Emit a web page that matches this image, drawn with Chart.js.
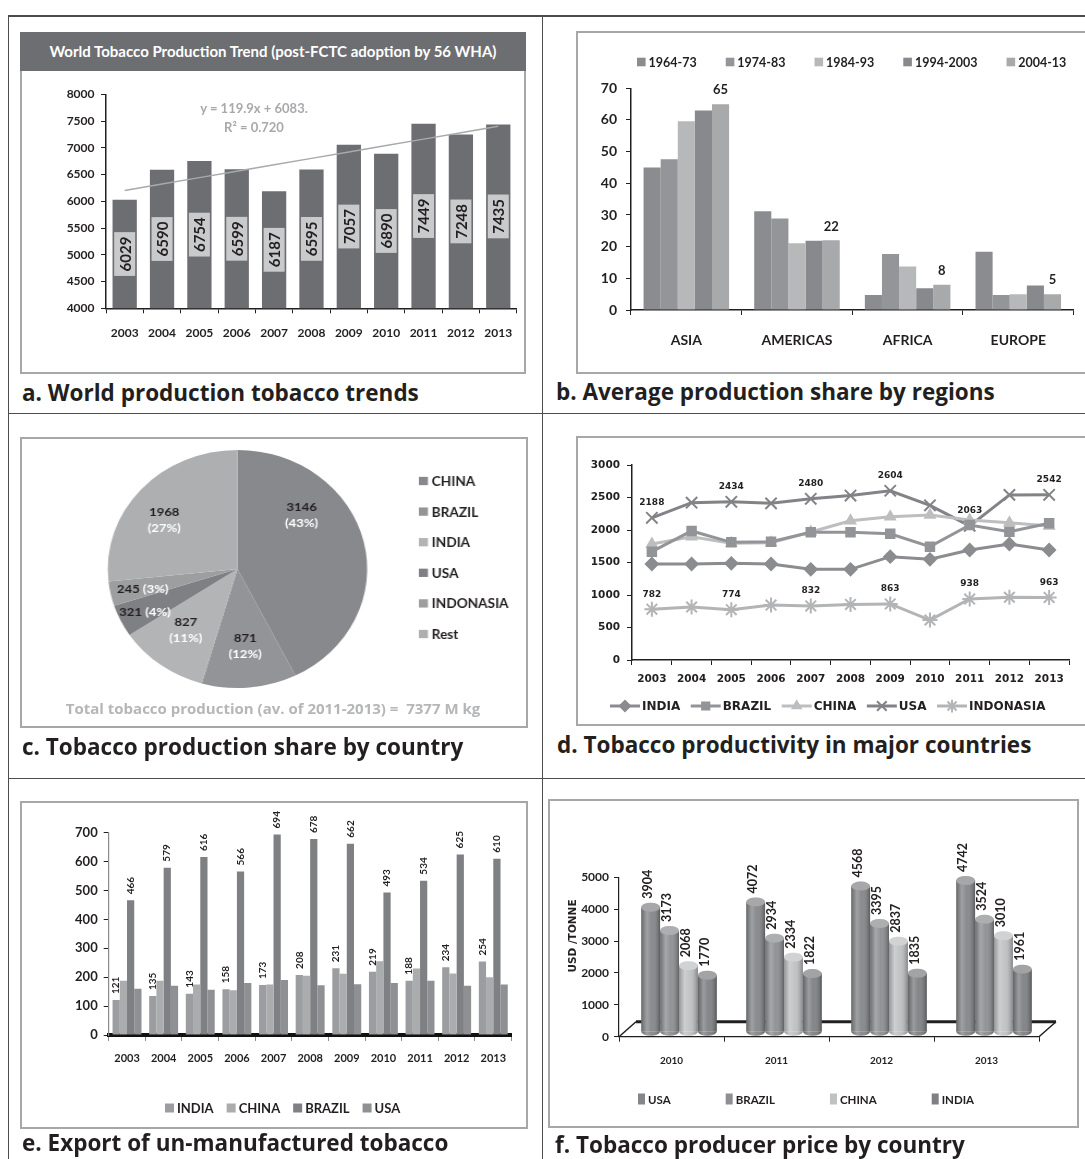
<!DOCTYPE html>
<html>
<head>
<meta charset="utf-8">
<title>Tobacco production, productivity, exports and prices</title>
<script src="https://cdn.jsdelivr.net/npm/chart.js@4.4.1/dist/chart.umd.min.js"></script>
<style>
  html, body { margin: 0; padding: 0; background: #fff; }
  #page { position: relative; width: 1085px; height: 1159px; overflow: hidden;
          font-family: Lato, 'Open Sans', sans-serif; color: #231f20; }
  .rule { position: absolute; background: #4d4d4f; }
  .box { position: absolute; border: 2px solid #a6a7a9; box-sizing: border-box; }
  .cap { position: absolute; font-family: 'Open Sans', Lato, sans-serif; font-weight: 700;
         font-size: 22.5px; line-height: 24px; white-space: nowrap; }
  .cv { position: absolute; }
  .note { position: absolute; font-weight: 700; white-space: nowrap; text-align: center; }
  .titlebar { position: absolute; background: #6d6e71; color: #fff; font-weight: 700;
              text-align: center; white-space: nowrap; }
</style>
</head>
<body>
<div id="page">
  <!-- frame rules -->
  <div class="rule" style="left:8px;top:15px;width:1077px;height:1.5px"></div>
  <div class="rule" style="left:7.5px;top:15px;width:1.5px;height:1144px"></div>
  <div class="rule" style="left:541.5px;top:15px;width:1.5px;height:1144px"></div>
  <div class="rule" style="left:8px;top:412.5px;width:1077px;height:1.5px"></div>
  <div class="rule" style="left:8px;top:777.5px;width:1077px;height:1.5px"></div>

  <!-- panel boxes -->
  <div class="box" style="left:20px;top:32px;width:506px;height:342px"></div>
  <div class="box" style="left:576px;top:31px;width:520px;height:343px"></div>
  <div class="box" style="left:20px;top:437px;width:508px;height:291px"></div>
  <div class="box" style="left:576px;top:436px;width:520px;height:290px"></div>
  <div class="box" style="left:20px;top:801px;width:508px;height:328px"></div>
  <div class="box" style="left:548px;top:799px;width:531px;height:329px"></div>

  <div class="titlebar" style="left:20px;top:32px;width:506px;height:39px;line-height:39px;font-size:15px">World Tobacco Production Trend (post-FCTC adoption by 56 WHA)</div>

  <div class="cv" style="left:21px;top:71px;width:504px;height:302px"><canvas id="chartA"></canvas></div>
  <div class="cv" style="left:577px;top:32px;width:508px;height:341px"><canvas id="chartB"></canvas></div>
  <div class="cv" style="left:21px;top:438px;width:464px;height:289px;transform:scaleX(1.09);transform-origin:0 0"><canvas id="chartC"></canvas></div>
  <div class="cv" style="left:577px;top:438px;width:508px;height:287px"><canvas id="chartD"></canvas></div>
  <div class="cv" style="left:22px;top:803px;width:505px;height:325px"><canvas id="chartE"></canvas></div>
  <div class="cv" style="left:550px;top:801px;width:527px;height:325px"><canvas id="chartF"></canvas></div>

  <div class="note" style="left:104px;top:100px;width:300px;line-height:16px;font-size:13px;color:#a7a9ac">y = 119.9x + 6083.</div>
  <div class="note" style="left:104px;top:119px;width:300px;line-height:16px;font-size:13px;color:#a7a9ac">R² = 0.720</div>
  <div class="note" style="left:23px;top:699px;width:500px;line-height:18px;font-size:15px;color:#b5b6b8;font-family:'Open Sans',Lato,sans-serif">Total tobacco production (av. of 2011-2013) =&nbsp; 7377 M kg</div>

  <div class="cap" style="left:22px;top:381px">a. World production tobacco trends</div>
  <div class="cap" style="left:556px;top:380px">b. Average production share by regions</div>
  <div class="cap" style="left:22px;top:735px">c. Tobacco production share by country</div>
  <div class="cap" style="left:557px;top:733px">d. Tobacco productivity in major countries</div>
  <div class="cap" style="left:22px;top:1131px">e. Export of un-manufactured tobacco</div>
  <div class="cap" style="left:555px;top:1133px">f. Tobacco producer price by country</div>
</div>

<script>
// ---------- data ----------
// a. world production (M kg) and its fitted trend line
const yearsA = ['2003','2004','2005','2006','2007','2008','2009','2010','2011','2012','2013'];
const worldProduction = [6029, 6590, 6754, 6599, 6187, 6595, 7057, 6890, 7449, 7248, 7435];
const trendSlope = 119.9;
const trendIntercept = 6083;

// b. average production share (%) by region and decade
const regions = ['ASIA', 'AMERICAS', 'AFRICA', 'EUROPE'];
const decades = ['1964-73', '1974-83', '1984-93', '1994-2003', '2004-13'];
const share1964_73 = [45, 31.2, 4.7, 18.4];
const share1974_83 = [47.6, 28.9, 17.7, 4.7];
const share1984_93 = [59.6, 21.1, 13.7, 5.0];
const share1994_03 = [63, 21.9, 6.9, 7.7];
const share2004_13 = [65, 22, 8, 5];

// c. production share by country (average 2011-2013, M kg)
const countriesC = ['CHINA', 'BRAZIL', 'INDIA', 'USA', 'INDONASIA', 'Rest'];
const productionC = [3146, 871, 827, 321, 245, 1968];

// d. productivity (kg/ha)
const yearsD = ['2003','2004','2005','2006','2007','2008','2009','2010','2011','2012','2013'];
const yieldIndia = [1477, 1477, 1487, 1477, 1395, 1395, 1590, 1549, 1692, 1785, 1692];
const yieldBrazil = [1667, 1985, 1810, 1821, 1964, 1964, 1943, 1744, 2077, 1974, 2103];
const yieldChina = [1785, 1897, 1795, 1805, 1969, 2143, 2205, 2231, 2154, 2113, 2062];
const yieldUSA = [2188, 2420, 2434, 2410, 2480, 2530, 2604, 2380, 2063, 2540, 2542];
const yieldIndonesia = [782, 815, 774, 845, 832, 855, 863, 615, 938, 965, 963];
const labelledYearsD = ['2003', '2005', '2007', '2009', '2011', '2013'];

// e. export of un-manufactured tobacco (M kg)
const yearsE = ['2003','2004','2005','2006','2007','2008','2009','2010','2011','2012','2013'];
const exportIndia = [121, 135, 143, 158, 173, 208, 231, 219, 188, 234, 254];
const exportChina = [188, 188, 175, 155, 175, 205, 212, 255, 230, 213, 200];
const exportBrazil = [466, 579, 616, 566, 694, 678, 662, 493, 534, 625, 610];
const exportUSA = [160, 170, 157, 180, 190, 172, 176, 180, 188, 170, 175];

// f. producer price (USD / tonne)
const yearsF = ['2010', '2011', '2012', '2013'];
const priceUSA = [3904, 4072, 4568, 4742];
const priceBrazil = [3173, 2934, 3395, 3524];
const priceChina = [2068, 2334, 2837, 3010];
const priceIndia = [1770, 1822, 1835, 1961];

// ---------- shared look ----------
const INK = '#231f20';
const LATO = "Lato, 'Open Sans', sans-serif";
const DEJAVU = "'DejaVu Sans', Verdana, sans-serif";
Chart.defaults.font.family = LATO;
Chart.defaults.font.weight = 'bold';
Chart.defaults.color = INK;
Chart.defaults.animation = false;
Chart.defaults.responsive = true;
Chart.defaults.maintainAspectRatio = false;
Chart.defaults.plugins.legend.display = false;
Chart.defaults.plugins.tooltip.enabled = false;

const fixWidth = w => scale => { scale.width = w; };
const fixHeight = h => scale => { scale.height = h; };
const plainNumber = v => String(v);

function categoryAxis(height, fontSize, pad, extra) {
  return Object.assign({
    offset: true,
    grid: { offset: true, drawOnChartArea: false, drawTicks: true, tickLength: 5, color: INK, lineWidth: 1 },
    border: { display: true, color: INK, width: 1.5 },
    ticks: { font: { size: fontSize, weight: 'bold' }, padding: pad, maxRotation: 0, autoSkip: false },
    afterFit: fixHeight(height)
  }, extra || {});
}
function valueAxis(width, min, max, step, font, pad, extra) {
  return Object.assign({
    min, max,
    grid: { drawOnChartArea: false, drawTicks: true, tickLength: 5, color: INK, lineWidth: 1 },
    border: { display: true, color: INK, width: 1.5 },
    ticks: { stepSize: step, font, padding: pad, callback: plainNumber },
    afterFit: fixWidth(width)
  }, extra || {});
}

// legend row of filled boxes, built from the datasets
const boxLegend = {
  id: 'boxLegend',
  afterDraw(chart, args, o) {
    if (!o || o.x === undefined) return;
    const ctx = chart.ctx;
    ctx.save();
    ctx.font = o.font;
    ctx.textBaseline = 'middle';
    ctx.textAlign = 'left';
    let x = o.x;
    chart.data.datasets.forEach(ds => {
      if (ds.type === 'line') return;
      ctx.fillStyle = ds.backgroundColor;
      ctx.fillRect(x, o.y - o.boxH / 2, o.boxW, o.boxH);
      x += o.boxW + o.textGap;
      ctx.fillStyle = INK;
      ctx.fillText(ds.label, x, o.y + 1);
      x += ctx.measureText(ds.label).width + o.gap;
    });
    ctx.restore();
  }
};

// ---------- a. world production trend ----------
const trendLine = yearsA.map((_, i) => trendSlope * (i + 1) + trendIntercept);

const boxedBarLabels = {
  id: 'boxedBarLabels',
  afterDatasetsDraw(chart) {
    const ctx = chart.ctx;
    const floor = chart.chartArea.bottom;
    const idx = chart.data.datasets.findIndex(d => d.type === 'bar');
    const ds = chart.data.datasets[idx];
    chart.getDatasetMeta(idx).data.forEach((bar, i) => {
      const txt = String(ds.data[i]);
      ctx.save();
      ctx.font = 'bold 15px ' + LATO;
      const tw = ctx.measureText(txt).width;
      const len = tw + 9, thick = 21;
      ctx.translate(bar.x, (bar.y + Math.min(bar.base, floor)) / 2);
      ctx.rotate(-Math.PI / 2);
      ctx.fillStyle = '#c9cacc';
      ctx.fillRect(-len / 2, -thick / 2, len, thick);
      ctx.fillStyle = INK;
      ctx.textAlign = 'center';
      ctx.textBaseline = 'middle';
      ctx.fillText(txt, 0, 1);
      ctx.restore();
    });
  }
};

new Chart(document.getElementById('chartA'), {
  data: {
    labels: yearsA,
    datasets: [
      { type: 'line', label: 'Trend', data: trendLine, borderColor: '#a7a9ac', borderWidth: 1.5,
        pointRadius: 0, order: 0 },
      { type: 'bar', label: 'Production', data: worldProduction, backgroundColor: '#6d6e71',
        barPercentage: 0.65, categoryPercentage: 1, order: 1 }
    ]
  },
  options: {
    layout: { padding: { left: 0, right: 7, top: 23.3, bottom: 0 } },
    scales: {
      x: categoryAxis(64.7, 12, 12.5),
      y: valueAxis(85, 4000, 8000, 500, { size: 12, weight: 'bold' }, 6.5)
    }
  },
  plugins: [boxedBarLabels]
});

// ---------- b. regional shares ----------
const topValueLabel = {
  id: 'topValueLabel',
  afterDatasetsDraw(chart, args, o) {
    const ctx = chart.ctx;
    const last = chart.data.datasets.length - 1;
    const ds = chart.data.datasets[last];
    ctx.save();
    ctx.font = o.font;
    ctx.fillStyle = INK;
    ctx.textAlign = 'center';
    ctx.textBaseline = 'middle';
    chart.getDatasetMeta(last).data.forEach((bar, i) => {
      ctx.fillText(String(ds.data[i]), bar.x, bar.y - o.offset);
    });
    ctx.restore();
  }
};

const decadeColors = ['#8b8c8f', '#949598', '#b7b8ba', '#88898c', '#a8a9ab'];
const decadeSeries = [share1964_73, share1974_83, share1984_93, share1994_03, share2004_13];

new Chart(document.getElementById('chartB'), {
  type: 'bar',
  data: {
    labels: regions,
    datasets: decades.map((d, i) => ({
      label: d, data: decadeSeries[i], backgroundColor: decadeColors[i],
      barPercentage: 1, categoryPercentage: 0.773
    }))
  },
  options: {
    layout: { padding: { left: 0, right: 11.4, top: 56.3, bottom: 0 } },
    scales: {
      x: categoryAxis(63, 14, 17),
      y: valueAxis(54, 0, 70, 10, { size: 14, weight: 'bold' }, 9)
    },
    plugins: {
      boxLegend: { x: 60, y: 30, boxW: 8.6, boxH: 8.6, textGap: 3, gap: 29, font: 'bold 12.5px ' + LATO },
      topValueLabel: { font: 'bold 13px ' + LATO, offset: 14 }
    }
  },
  plugins: [boxLegend, topValueLabel]
});

// ---------- c. country shares ----------
const pieColors = ['#88898c', '#939497', '#b3b4b6', '#7f8083', '#9d9ea0', '#aeafb1'];
// where each label sits inside its slice: fraction of the slice angle and of the radius
const pieLabelPlace = [
  { at: 0.31, r: 0.67 }, { at: 0.5, r: 0.65 }, { at: 0.54, r: 0.65 },
  { at: 0.43, r: 0.8, inline: true }, { at: 0.41, r: 0.75, inline: true }, { at: 0.44, r: 0.7 }
];

const pieLabels = {
  id: 'pieLabels',
  afterDatasetsDraw(chart, args, o) {
    const ctx = chart.ctx;
    const data = chart.data.datasets[0].data;
    const total = data.reduce((a, b) => a + b, 0);
    ctx.save();
    ctx.font = o.font;
    ctx.textBaseline = 'middle';
    chart.getDatasetMeta(0).data.forEach((arc, i) => {
      const p = pieLabelPlace[i];
      const ang = arc.startAngle + p.at * (arc.endAngle - arc.startAngle);
      const rr = arc.outerRadius * p.r;
      const cx = arc.x + Math.cos(ang) * rr;
      const cy = arc.y + Math.sin(ang) * rr;
      const val = String(data[i]);
      const pct = '(' + Math.round(data[i] / total * 100) + '%)';
      if (p.inline) {
        const w1 = ctx.measureText(val + ' ').width;
        const w2 = ctx.measureText(pct).width;
        const x0 = cx - (w1 + w2) / 2;
        ctx.textAlign = 'left';
        ctx.fillStyle = INK; ctx.fillText(val, x0, cy);
        ctx.fillStyle = '#ffffff'; ctx.fillText(pct, x0 + w1, cy);
      } else {
        ctx.textAlign = 'center';
        ctx.fillStyle = INK; ctx.fillText(val, cx, cy - 8);
        ctx.fillStyle = '#ffffff'; ctx.fillText(pct, cx, cy + 8);
      }
    });
    ctx.restore();
  }
};

const pieLegend = {
  id: 'pieLegend',
  afterDraw(chart, args, o) {
    const ctx = chart.ctx;
    const ds = chart.data.datasets[0];
    ctx.save();
    ctx.font = o.font;
    ctx.textBaseline = 'middle';
    chart.data.labels.forEach((lab, i) => {
      const y = o.y + i * o.step;
      ctx.fillStyle = ds.backgroundColor[i];
      ctx.fillRect(o.x, y - o.box / 2, o.box, o.box);
      ctx.fillStyle = INK;
      ctx.fillText(lab, o.x + o.box + o.textGap, y + 1);
    });
    ctx.restore();
  }
};

new Chart(document.getElementById('chartC'), {
  type: 'pie',
  data: {
    labels: countriesC,
    datasets: [{ data: productionC, backgroundColor: pieColors, borderWidth: 0 }]
  },
  options: {
    layout: { padding: { left: 79.6, right: 146.4, top: 12, bottom: 39 } },
    plugins: {
      pieLabels: { font: 'bold 12px ' + LATO },
      pieLegend: { x: 365, y: 43, step: 30.6, box: 8.3, textGap: 3.5, font: 'bold 12.5px ' + LATO }
    }
  },
  plugins: [pieLabels, pieLegend]
});

// ---------- d. productivity ----------
const lineLegend = {
  id: 'lineLegend',
  afterDraw(chart, args, o) {
    const ctx = chart.ctx;
    ctx.save();
    ctx.font = o.font;
    ctx.textBaseline = 'middle';
    ctx.textAlign = 'left';
    let x = o.x;
    chart.data.datasets.forEach(ds => {
      ctx.strokeStyle = ds.borderColor;
      ctx.lineWidth = ds.borderWidth;
      ctx.beginPath(); ctx.moveTo(x, o.y); ctx.lineTo(x + o.line, o.y); ctx.stroke();
      ctx.fillStyle = ds.pointBackgroundColor;
      ctx.strokeStyle = ds.pointBorderColor;
      ctx.lineWidth = ds.pointBorderWidth;
      Chart.helpers.drawPoint(ctx, { pointStyle: ds.pointStyle, radius: ds.pointRadius * 0.85,
        borderWidth: ds.pointBorderWidth, rotation: 0 }, x + o.line / 2, o.y);
      x += o.line + o.textGap;
      ctx.fillStyle = INK;
      ctx.fillText(ds.label, x, o.y + 1);
      x += ctx.measureText(ds.label).width + o.gap;
    });
    ctx.restore();
  }
};

const pointValueLabels = {
  id: 'pointValueLabels',
  afterDatasetsDraw(chart, args, o) {
    const ctx = chart.ctx;
    ctx.save();
    ctx.font = o.font;
    ctx.fillStyle = INK;
    ctx.textAlign = 'center';
    ctx.textBaseline = 'middle';
    chart.data.datasets.forEach((ds, di) => {
      if (!ds.showValues) return;
      chart.getDatasetMeta(di).data.forEach((pt, i) => {
        if (!labelledYearsD.includes(chart.data.labels[i])) return;
        ctx.fillText(String(ds.data[i]), pt.x, pt.y - o.offset);
      });
    });
    ctx.restore();
  }
};

function yieldSeries(label, data, color, style, radius, showValues) {
  return {
    label, data, borderColor: color, backgroundColor: color, borderWidth: 3,
    pointStyle: style, pointRadius: radius, pointBackgroundColor: color, pointBorderColor: color,
    pointBorderWidth: 2, showValues, tension: 0
  };
}

const dejavuTick = { family: DEJAVU, size: 10.5, weight: 'bold' };
new Chart(document.getElementById('chartD'), {
  type: 'line',
  data: {
    labels: yearsD,
    datasets: [
      yieldSeries('INDIA', yieldIndia, '#8b8c8f', 'rectRot', 6, false),
      yieldSeries('BRAZIL', yieldBrazil, '#939497', 'rect', 6, false),
      yieldSeries('CHINA', yieldChina, '#bdbec0', 'triangle', 5.5, false),
      yieldSeries('USA', yieldUSA, '#828386', 'crossRot', 8, true),
      yieldSeries('INDONASIA', yieldIndonesia, '#b3b4b6', 'star', 7.5, true)
    ]
  },
  options: {
    layout: { padding: { left: 0, right: 16, top: 27, bottom: 0 } },
    scales: {
      x: categoryAxis(65, 10.5, 7.7, { ticks: { font: dejavuTick, padding: 7.7, maxRotation: 0, autoSkip: false } }),
      y: valueAxis(55, 0, 3000, 500, dejavuTick, 7)
    },
    plugins: {
      lineLegend: { x: 33, y: 268, line: 30, textGap: 2, gap: 10.5, font: 'bold 12px ' + DEJAVU },
      pointValueLabels: { font: 'bold 9px ' + DEJAVU, offset: 15 }
    }
  },
  plugins: [lineLegend, pointValueLabels]
});

// ---------- e. exports ----------
const rotatedValueLabels = {
  id: 'rotatedValueLabels',
  afterDatasetsDraw(chart, args, o) {
    const ctx = chart.ctx;
    chart.data.datasets.forEach((ds, di) => {
      if (!ds.showValues) return;
      chart.getDatasetMeta(di).data.forEach((bar, i) => {
        ctx.save();
        ctx.font = o.font;
        ctx.fillStyle = INK;
        ctx.textAlign = 'left';
        ctx.textBaseline = 'middle';
        ctx.translate(bar.x + (o.dx || 0), bar.y - o.gap);
        ctx.rotate(-Math.PI / 2);
        ctx.fillText(String(ds.data[i]), 0, 0);
        ctx.restore();
      });
    });
  }
};

new Chart(document.getElementById('chartE'), {
  type: 'bar',
  data: {
    labels: yearsE,
    datasets: [
      { label: 'INDIA', data: exportIndia, backgroundColor: '#9c9da0', showValues: true },
      { label: 'CHINA', data: exportChina, backgroundColor: '#abacae' },
      { label: 'BRAZIL', data: exportBrazil, backgroundColor: '#7f8083', showValues: true },
      { label: 'USA', data: exportUSA, backgroundColor: '#8f9093' }
    ].map(d => Object.assign(d, { barPercentage: 1, categoryPercentage: 0.79 }))
  },
  options: {
    layout: { padding: { left: 0, right: 15.4, top: 29.7, bottom: 0 } },
    scales: {
      x: categoryAxis(93, 11, 10.4, { z: 1, border: { display: true, color: '#111', width: 4 },
        grid: { offset: true, drawOnChartArea: false, drawTicks: true, tickLength: 6, color: '#8a8b8d', lineWidth: 1 } }),
      y: valueAxis(86.7, 0, 700, 100, { size: 13, weight: 'bold' }, 6, { border: { display: true, color: '#8a8b8d', width: 1.2 } })
    },
    plugins: {
      boxLegend: { x: 143, y: 305, boxW: 9, boxH: 9, textGap: 3, gap: 13, font: 'bold 13px ' + LATO },
      rotatedValueLabels: { font: 'bold 10px ' + LATO, gap: 6 }
    }
  },
  plugins: [boxLegend, rotatedValueLabels]
});

// ---------- f. producer prices, drawn as cylinders on a floor ----------
const cylinderLook = {
  id: 'cylinderLook',
  beforeDatasetsDraw(chart, args, o) {
    const { ctx, chartArea: a } = chart;
    ctx.save();
    ctx.strokeStyle = INK;
    ctx.lineWidth = 1.5;
    ctx.beginPath();
    ctx.moveTo(a.left, a.bottom); ctx.lineTo(a.left + o.depthX, a.bottom - o.depthY);
    ctx.moveTo(a.right, a.bottom); ctx.lineTo(a.right + o.depthX, a.bottom - o.depthY);
    ctx.stroke();
    ctx.lineWidth = 3;
    ctx.beginPath();
    ctx.moveTo(a.left + o.depthX, a.bottom - o.depthY); ctx.lineTo(a.right + o.depthX, a.bottom - o.depthY);
    ctx.stroke();
    ctx.restore();
    ctx.save();
    ctx.translate(o.shiftX, o.shiftY);
  },
  afterDatasetsDraw(chart, args, o) {
    const ctx = chart.ctx;
    chart.data.datasets.forEach((ds, di) => {
      chart.getDatasetMeta(di).data.forEach((bar, i) => {
        const { x, y, base, width } = bar.getProps(['x', 'y', 'base', 'width'], true);
        const l = x - width / 2;
        const shade = ctx.createLinearGradient(l, 0, l + width, 0);
        shade.addColorStop(0, 'rgba(0,0,0,0.22)');
        shade.addColorStop(0.3, 'rgba(255,255,255,0.22)');
        shade.addColorStop(0.55, 'rgba(255,255,255,0.04)');
        shade.addColorStop(1, 'rgba(0,0,0,0.32)');
        ctx.fillStyle = ds.backgroundColor;
        ctx.beginPath(); ctx.ellipse(x, base, width / 2, o.ry, 0, 0, Math.PI); ctx.fill();
        ctx.fillStyle = shade;
        ctx.fillRect(l, y, width, base - y);
        ctx.beginPath(); ctx.ellipse(x, base, width / 2, o.ry, 0, 0, Math.PI); ctx.fill();
        ctx.fillStyle = ds.backgroundColor;
        ctx.beginPath(); ctx.ellipse(x, y, width / 2, o.ry, 0, 0, 2 * Math.PI); ctx.fill();
        ctx.fillStyle = 'rgba(255,255,255,0.28)';
        ctx.fill();
        // value above each cylinder
        ctx.save();
        ctx.font = o.font;
        ctx.fillStyle = INK;
        ctx.textAlign = 'left';
        ctx.textBaseline = 'middle';
        ctx.translate(x - 2.5, y - o.ry - 4);
        ctx.rotate(-Math.PI / 2);
        ctx.fillText(String(ds.data[i]), 0, 0);
        ctx.restore();
      });
    });
    ctx.restore();
  }
};

const axisTitleF = {
  id: 'axisTitleF',
  afterDraw(chart, args, o) {
    const ctx = chart.ctx;
    ctx.save();
    ctx.font = o.font;
    ctx.fillStyle = INK;
    ctx.textAlign = 'center';
    ctx.textBaseline = 'middle';
    ctx.translate(o.x, o.y);
    ctx.rotate(-Math.PI / 2);
    ctx.fillText(o.text, 0, 0);
    ctx.restore();
  }
};

new Chart(document.getElementById('chartF'), {
  type: 'bar',
  data: {
    labels: yearsF,
    datasets: [
      { label: 'USA', data: priceUSA, backgroundColor: '#858689' },
      { label: 'BRAZIL', data: priceBrazil, backgroundColor: '#8e8f92' },
      { label: 'CHINA', data: priceChina, backgroundColor: '#c0c1c3' },
      { label: 'INDIA', data: priceIndia, backgroundColor: '#7f8083' }
    ].map(d => Object.assign(d, { barPercentage: 1, categoryPercentage: 0.72 }))
  },
  options: {
    layout: { padding: { left: 0, right: 38, top: 76.3, bottom: 0 } },
    scales: {
      x: categoryAxis(89.3, 10, 13.3, { border: { display: true, color: INK, width: 1.2 } }),
      y: valueAxis(69, 0, 5000, 1000, { size: 12, weight: 'bold' }, 5, { border: { display: true, color: INK, width: 1.2 } })
    },
    plugins: {
      boxLegend: { x: 88, y: 298, boxW: 7, boxH: 11, textGap: 3, gap: 55, font: 'bold 11.5px ' + LATO },
      cylinderLook: { depthX: 17, depthY: 15, shiftX: 7.5, shiftY: -5, ry: 4.5, font: 'bold 12.5px ' + LATO },
      axisTitleF: { x: 23, y: 135, text: 'USD /TONNE', font: 'bold 10.5px ' + DEJAVU }
    }
  },
  plugins: [boxLegend, cylinderLook, axisTitleF]
});
</script>
</body>
</html>
